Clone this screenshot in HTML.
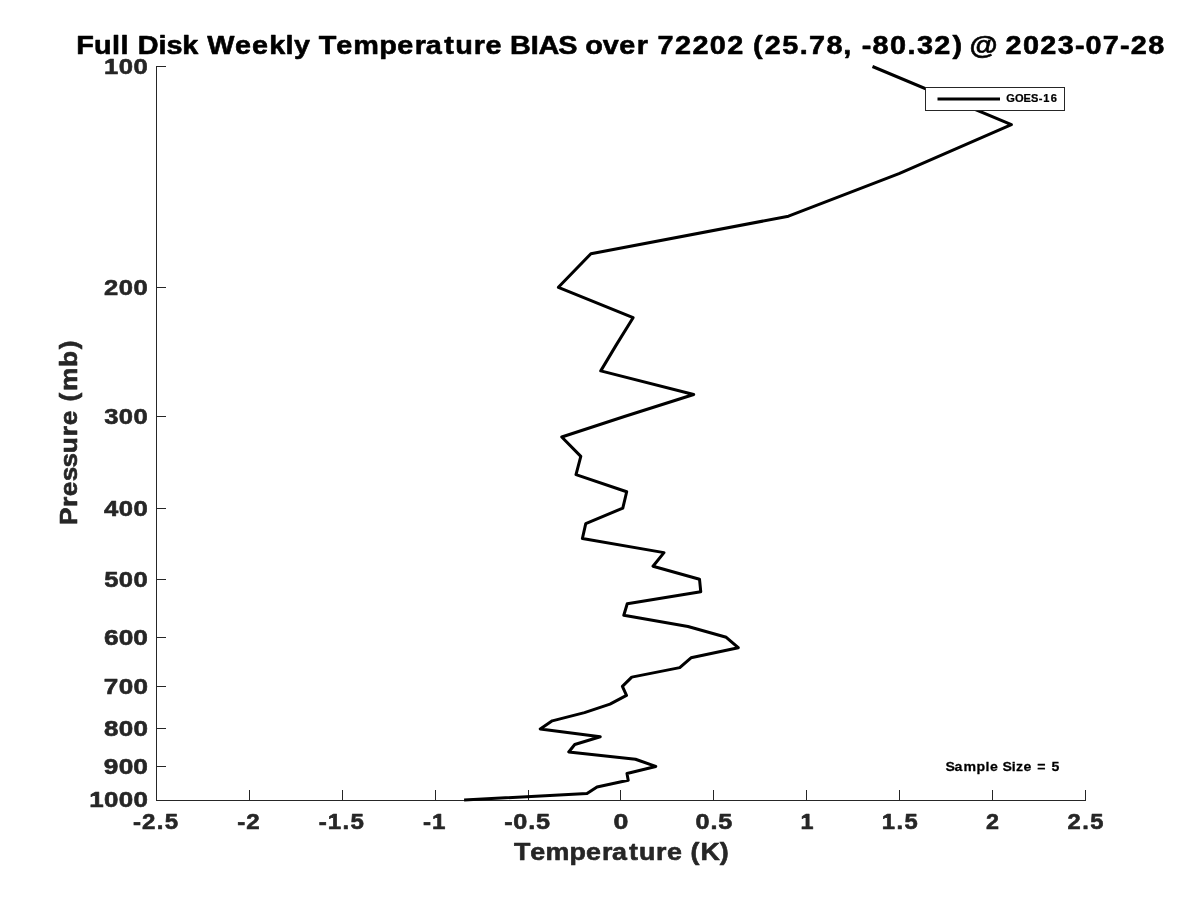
<!DOCTYPE html>
<html><head><meta charset="utf-8"><style>html,body{margin:0;padding:0;background:#fff;overflow:hidden}svg{display:block;will-change:transform}</style></head>
<body><svg width="1200" height="900" viewBox="0 0 1200 900" font-family="Liberation Sans, sans-serif" font-weight="bold"><path d="M156.5 66 V800.5 H1086" fill="none" stroke="#262626" stroke-width="1"/>
<path d="M156 66.5 H166" stroke="#262626" stroke-width="1"/>
<path d="M156 287.5 H166" stroke="#262626" stroke-width="1"/>
<path d="M156 416.5 H166" stroke="#262626" stroke-width="1"/>
<path d="M156 508.5 H166" stroke="#262626" stroke-width="1"/>
<path d="M156 579.5 H166" stroke="#262626" stroke-width="1"/>
<path d="M156 637.5 H166" stroke="#262626" stroke-width="1"/>
<path d="M156 686.5 H166" stroke="#262626" stroke-width="1"/>
<path d="M156 728.5 H166" stroke="#262626" stroke-width="1"/>
<path d="M156 766.5 H166" stroke="#262626" stroke-width="1"/>
<path d="M156 800.5 H166" stroke="#262626" stroke-width="1"/>
<path d="M156.5 790 V800" stroke="#262626" stroke-width="1"/>
<path d="M249.5 790 V800" stroke="#262626" stroke-width="1"/>
<path d="M342.5 790 V800" stroke="#262626" stroke-width="1"/>
<path d="M435.5 790 V800" stroke="#262626" stroke-width="1"/>
<path d="M528.5 790 V800" stroke="#262626" stroke-width="1"/>
<path d="M620.5 790 V800" stroke="#262626" stroke-width="1"/>
<path d="M713.5 790 V800" stroke="#262626" stroke-width="1"/>
<path d="M806.5 790 V800" stroke="#262626" stroke-width="1"/>
<path d="M899.5 790 V800" stroke="#262626" stroke-width="1"/>
<path d="M992.5 790 V800" stroke="#262626" stroke-width="1"/>
<path d="M1085.5 790 V800" stroke="#262626" stroke-width="1"/>
<polyline points="872.50,66.50 1011.40,124.58 899.00,173.68 788.50,216.22 590.90,253.74 558.40,287.31 633.10,317.67 616.00,345.38 600.75,370.88 693.70,394.49 624.40,416.47 561.75,437.03 580.80,456.34 576.00,474.55 626.70,491.77 622.80,508.11 585.75,523.65 582.40,538.47 664.00,552.63 653.00,566.19 699.50,579.19 700.75,591.69 627.25,603.71 623.80,615.30 688.00,626.47 726.25,637.27 738.25,647.72 691.00,657.83 679.75,667.64 631.75,677.15 622.40,686.38 626.50,695.35 610.00,704.08 584.50,712.58 552.25,720.85 540.25,728.92 600.25,736.78 574.75,744.46 568.75,751.95 635.50,759.28 655.75,766.44 627.00,773.44 628.20,780.29 597.00,787.00 587.00,793.56 464.10,800.00" fill="none" stroke="#000" stroke-width="3" stroke-linejoin="round" stroke-linecap="butt"/>
<rect x="925.5" y="87.5" width="139" height="23" fill="#fff" stroke="#262626" stroke-width="1"/>
<path d="M937.5 99 H1000" stroke="#000" stroke-width="3"/>
<text transform="scale(1.0887 1)" x="70.00 86.32 102.88 110.75 118.36 126.47 145.71 152.93 167.52 182.28 190.45 215.93 231.52 247.33 262.36 269.99 284.94 292.69 308.93 324.41 348.41 364.91 380.96 391.05 408.00 418.10 435.15 446.02 461.30 468.46 487.41 494.72 512.72 529.71 537.52 553.63 568.79 584.84 595.40 603.90 620.00 635.99 652.02 667.98 683.35 691.62 702.47 718.53 734.54 743.07 759.17 774.66 783.28 791.66 801.43 817.46 833.50 842.19 858.14 874.94 884.02 890.56 915.00 923.61 939.64 955.59 971.63 987.34 997.15 1012.99 1028.86 1038.63 1054.63" y="53.75" font-size="26.47" fill="#000" stroke="#000" stroke-width="0.6" stroke-linejoin="round">Full Disk Weekly Temperature BIAS over 72202 (25.78, -80.32) @ 2023-07-28</text>
<text transform="scale(1.1449 1)" x="90.94 103.79 116.64" y="74.00" font-size="22.38" fill="#262626" stroke="#262626" stroke-width="0.6" stroke-linejoin="round">100</text>
<text transform="scale(1.1427 1)" x="91.10 104.01 116.88" y="294.81" font-size="22.38" fill="#262626" stroke="#262626" stroke-width="0.6" stroke-linejoin="round">200</text>
<text transform="scale(1.1424 1)" x="91.16 104.03 116.91" y="423.97" font-size="22.38" fill="#262626" stroke="#262626" stroke-width="0.6" stroke-linejoin="round">300</text>
<text transform="scale(1.1481 1)" x="90.54 103.49 116.30" y="515.61" font-size="22.38" fill="#262626" stroke="#262626" stroke-width="0.6" stroke-linejoin="round">400</text>
<text transform="scale(1.1424 1)" x="91.17 104.03 116.91" y="586.69" font-size="22.38" fill="#262626" stroke="#262626" stroke-width="0.6" stroke-linejoin="round">500</text>
<text transform="scale(1.1741 1)" x="88.57 101.06 113.59" y="644.77" font-size="22.38" fill="#262626" stroke="#262626" stroke-width="0.6" stroke-linejoin="round">600</text>
<text transform="scale(1.1650 1)" x="89.14 101.89 114.53" y="693.88" font-size="22.38" fill="#262626" stroke="#262626" stroke-width="0.6" stroke-linejoin="round">700</text>
<text transform="scale(1.1613 1)" x="89.53 102.23 114.91" y="736.42" font-size="22.38" fill="#262626" stroke="#262626" stroke-width="0.6" stroke-linejoin="round">800</text>
<text transform="scale(1.1732 1)" x="88.49 101.13 113.68" y="773.94" font-size="22.38" fill="#262626" stroke="#262626" stroke-width="0.6" stroke-linejoin="round">900</text>
<text transform="scale(1.1572 1)" x="77.19 89.90 102.62 115.34" y="807.50" font-size="22.38" fill="#262626" stroke="#262626" stroke-width="0.6" stroke-linejoin="round">1000</text>
<text transform="scale(1.0753 1)" x="123.66 132.06 145.78 153.28" y="829.20" font-size="22.38" fill="#262626" stroke="#262626" stroke-width="0.6" stroke-linejoin="round">-2.5</text>
<text transform="scale(1.0763 1)" x="220.42 228.80" y="829.20" font-size="22.38" fill="#262626" stroke="#262626" stroke-width="0.6" stroke-linejoin="round">-2</text>
<text transform="scale(1.0768 1)" x="296.02 304.47 318.11 325.59" y="829.20" font-size="22.38" fill="#262626" stroke="#262626" stroke-width="0.6" stroke-linejoin="round">-1.5</text>
<text transform="scale(1.0793 1)" x="391.96 400.38" y="829.20" font-size="22.38" fill="#262626" stroke="#262626" stroke-width="0.6" stroke-linejoin="round">-1</text>
<text transform="scale(1.1284 1)" x="446.98 454.90 468.09 475.08" y="829.20" font-size="22.38" fill="#262626" stroke="#262626" stroke-width="0.6" stroke-linejoin="round">-0.5</text>
<text transform="scale(1.1939 1)" x="513.93" y="829.20" font-size="22.38" fill="#262626" stroke="#262626" stroke-width="0.6" stroke-linejoin="round">0</text>
<text transform="scale(1.1252 1)" x="618.14 631.36 638.38" y="829.20" font-size="22.38" fill="#262626" stroke="#262626" stroke-width="0.6" stroke-linejoin="round">0.5</text>
<text transform="scale(1.0448 1)" x="766.06" y="829.20" font-size="22.38" fill="#262626" stroke="#262626" stroke-width="0.6" stroke-linejoin="round">1</text>
<text transform="scale(1.0617 1)" x="830.51 844.30 851.93" y="829.20" font-size="22.38" fill="#262626" stroke="#262626" stroke-width="0.6" stroke-linejoin="round">1.5</text>
<text transform="scale(1.0415 1)" x="946.84" y="829.20" font-size="22.38" fill="#262626" stroke="#262626" stroke-width="0.6" stroke-linejoin="round">2</text>
<text transform="scale(1.0601 1)" x="1007.03 1020.91 1028.55" y="829.20" font-size="22.38" fill="#262626" stroke="#262626" stroke-width="0.6" stroke-linejoin="round">2.5</text>
<text transform="scale(1.1062 1)" x="464.59 479.24 493.14 514.84 529.74 544.24 553.31 568.65 577.71 593.12 602.90 616.79 624.17 633.33 650.77" y="859.60" font-size="24.26" fill="#262626" stroke="#262626" stroke-width="0.6" stroke-linejoin="round">Temperature (K)</text>
<text transform="scale(1.0621 1)" x="890.27 898.77 907.16 919.49 927.92 932.04 939.82 943.83 952.67 956.61 963.68 971.46 976.66 985.51 990.08" y="770.60" font-size="13.31" fill="#000" stroke="#000" stroke-width="0.25" stroke-linejoin="round">Sample Size = 5</text>
<text transform="scale(1.0667 1)" x="943.28 951.49 959.53 966.52 973.78 978.11 984.94" y="101.90" font-size="10.37" fill="#000" stroke="#000" stroke-width="0.25" stroke-linejoin="round">GOES-16</text>
<text transform="translate(77 0) rotate(-90) scale(1.0772 1)" x="-487.36 -470.73 -460.58 -446.70 -433.95 -420.75 -404.88 -394.73 -380.55 -372.80 -363.00 -340.65 -324.28" y="0.00" font-size="24.42" fill="#262626" stroke="#262626" stroke-width="0.6" stroke-linejoin="round">Pressure (mb)</text></svg></body></html>
